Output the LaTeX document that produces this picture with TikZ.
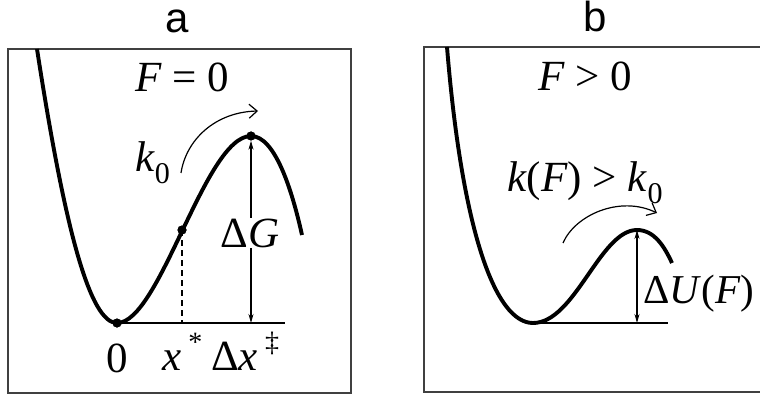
\documentclass[tikz,border=0pt]{standalone}
\usepackage{fontspec}
\setmainfont{Liberation Serif}
\newfontfamily\sansf{Liberation Sans}
\usetikzlibrary{arrows.meta}
\newcommand{\supmark}[1]{\,\raisebox{0.42em}{\fontsize{28}{30}\selectfont #1}}
\begin{document}
\begin{tikzpicture}[x=1pt,y=-1pt,
  frame/.style={draw=black!75, line width=1.4pt},
  curve/.style={line width=3.9pt, line cap=butt, line join=round},
  baseln/.style={line width=1.3pt},
  dot/.style={circle, fill=black, inner sep=0pt, minimum size=9pt},
  lbl/.style={font=\fontsize{43}{48}\selectfont, inner sep=0pt},
  title/.style={font=\sansf\fontsize{42}{48}\selectfont, inner sep=0pt},
  dbl/.style={line width=1.1pt, {Stealth[length=9pt,width=5pt]}-{Stealth[length=9pt,width=5pt]}},
  bent/.style={line width=1.2pt, -{Straight Barb[length=8pt,width=14pt]}}
]
\useasboundingbox (0,0) rectangle (760,398);
\fill[white] (0,0) rectangle (760,398);
\clip (0,0) rectangle (760,398);

% frames
\draw[frame] (8,49) rectangle (351,393);
\draw[frame] (424,47) rectangle (775,392);

% titles
\node[title, anchor=base] (ta) at (177,33) {a};
\node[title, anchor=base] (tb) at (595,32) {b};

% ---------- panel a ----------
\coordinate (a0) at (37,49);
\node[dot] (amin) at (117,323) {};
\node[dot] (amid) at (182,230) {};
\node[dot] (amax) at (251,136) {};
\coordinate (aend) at (302,235);
\coordinate (abaseR) at (285,323);
\coordinate (axs) at (182,323);
\coordinate (adg) at (251,323);

\draw[baseln] (amin.center) -- (abaseR);
\draw[dash pattern=on 6pt off 4pt, line width=1.1pt] (amid.center) -- (axs);
\draw[dbl] (amax.south) -- (adg);
\draw[curve] (a0) .. controls (65,230) and (90,323) .. (amin.center)
  .. controls (160,323) and (205,136) .. (amax.center)
  .. controls (275,136) and (292,190) .. (aend);
\node[dot] at (amin) {};
\node[dot] at (amid) {};
\node[dot] at (amax) {};

\node[lbl, fill=white, inner sep=1pt, anchor=base] (dG) at (250,247) {Δ\textit{G}};
\node[lbl, anchor=base] (F0) at (182,92) {\textit{F} = 0};
\node[lbl, anchor=base west] (k0) at (135,172) {\textit{k}\textsubscript{0}};
\coordinate (ka1) at (181,173);
\coordinate (ka2) at (258,111);
\draw[bent] (ka1) .. controls (186,140) and (215,112) .. (ka2);

\node[lbl, anchor=base] (l0) at (117,372) {0};
\node[lbl, anchor=base west] (lx) at (162,370) {\textit{x}\supmark{*}};
\node[lbl, anchor=base west] (ldx) at (211,370) {Δ\textit{x}\supmark{‡}};

% ---------- panel b ----------
\coordinate (b0) at (447,47);
\coordinate (bmin) at (533,323);
\coordinate (bmax) at (637,230);
\coordinate (bend) at (672,263);
\coordinate (bbaseR) at (668,323);
\coordinate (bdu) at (637,323);

\draw[baseln] (bmin) -- (bbaseR);
\draw[dbl] (bmax) -- (bdu);
\draw[curve] (b0) .. controls (462,230) and (495,323) .. (bmin)
  .. controls (575,323) and (600,230) .. (bmax)
  .. controls (655,230) and (665,248) .. (bend);

\node[lbl, anchor=base] (Fb) at (585,91) {\textit{F} > 0};
\node[lbl, anchor=base west] (kF) at (507,192) {\textit{k}(\textit{F}) > \textit{k}\textsubscript{0}};
\node[lbl, anchor=base west, font=\fontsize{41}{46}\selectfont] (dU) at (643,303) {Δ\textit{U}(\textit{F})};
\coordinate (kb1) at (563,243);
\coordinate (kb2) at (657,213);
\draw[bent] (kb1) .. controls (575,215) and (620,195) .. (kb2);
\end{tikzpicture}
\end{document}
